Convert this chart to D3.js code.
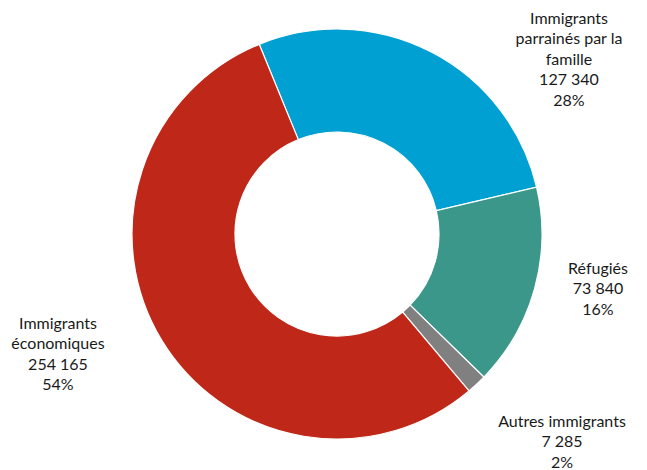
<!DOCTYPE html>
<html><head><meta charset="utf-8">
<script src="https://cdn.jsdelivr.net/npm/d3@7"></script>
<style>body{margin:0;background:#fff}svg{display:block}</style>
</head><body>
<svg id="chart" width="647" height="470"></svg>
<script>
const categories = ["Immigrants parrainés par la famille", "Réfugiés", "Autres immigrants", "Immigrants économiques"];
const values = [127340, 73840, 7285, 254165];
const valueLabels = ["127 340", "73 840", "7 285", "254 165"];
const percentLabels = ["28%", "16%", "2%", "54%"];
const labelLines = [["Immigrants", "parrainés par la", "famille"], ["Réfugiés"], ["Autres immigrants"], ["Immigrants", "économiques"]];
const colors = ["#00A0D3", "#3A978A", "#808080", "#BF2819"];

const svg = d3.select("#chart");
const cx = 337, cy = 234, R = 205, r = 102;
const pie = d3.pie().sort(null).value(d => d).startAngle(-22.3 * Math.PI / 180).endAngle((360 - 22.3) * Math.PI / 180);
const arcs = pie(values);
const arc = d3.arc().innerRadius(r).outerRadius(R);
const g = svg.append("g").attr("transform", `translate(${cx},${cy})`);
g.selectAll("path").data(arcs).join("path")
  .attr("d", arc).attr("fill", (d, i) => colors[i])
  .attr("stroke", "#fff").attr("stroke-width", 1.2);

const labelPos = [[569, 18], [598, 268], [562, 421], [58, 323]];
const lh = 20.6;
labelLines.forEach((lines, i) => {
  const all = lines.concat([valueLabels[i], percentLabels[i]]);
  const t = svg.append("text").attr("text-anchor", "middle")
    .attr("font-family", "Lato, 'Open Sans', sans-serif").attr("font-size", 16).attr("fill", "#1a1a1a");
  all.forEach((s, k) => {
    t.append("tspan").attr("x", labelPos[i][0]).attr("y", labelPos[i][1] + k * lh).attr("dy", "0.35em").text(s);
  });
});
</script>
</body></html>
